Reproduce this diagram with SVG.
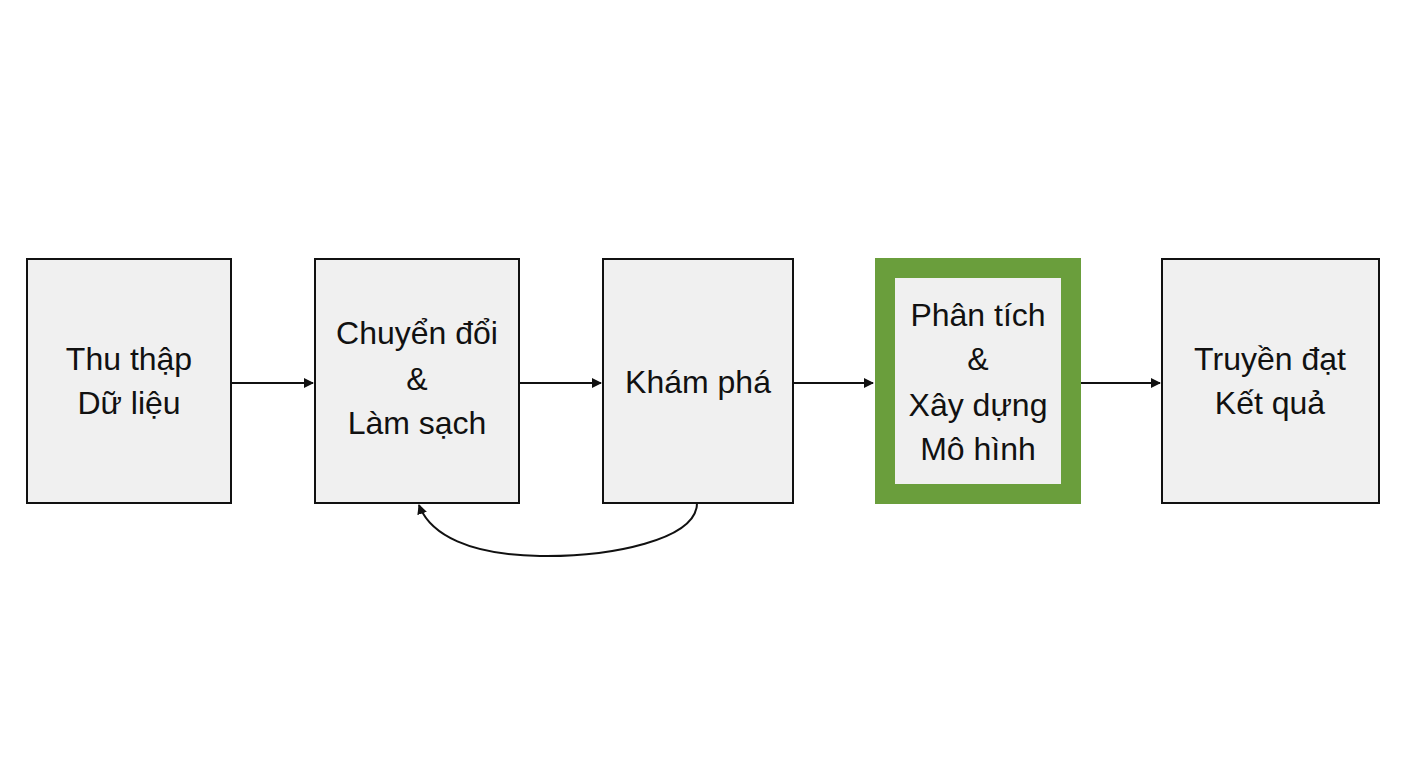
<svg xmlns="http://www.w3.org/2000/svg" width="1408" height="768" viewBox="0 0 1408 768">
<style>
.box{fill:#f0f0f0;stroke:#111;stroke-width:2}
.t{font-family:"Liberation Sans",Arial,sans-serif;font-size:32px;fill:#111;text-anchor:middle}
.c{stroke:#111;stroke-width:2;fill:none;marker-end:url(#a)}
</style>
<defs><marker id="a" markerWidth="10" markerHeight="10" refX="9" refY="5" orient="auto" markerUnits="userSpaceOnUse"><path d="M0,0L10,5L0,10z" fill="#111"/></marker></defs>
<rect width="1408" height="768" fill="#fff"/>
<g id="n1"><rect class="box" x="27" y="259" width="204" height="244"/><text class="t" x="129" y="370">Thu thập</text><text class="t" x="129" y="414">Dữ liệu</text></g>
<g id="n2"><rect class="box" x="315" y="259" width="204" height="244"/><text class="t" x="417" y="344">Chuyển đổi</text><text class="t" x="417" y="390">&amp;</text><text class="t" x="417" y="434">Làm sạch</text></g>
<g id="n3"><rect class="box" x="603" y="259" width="190" height="244"/><text class="t" x="698" y="393">Khám phá</text></g>
<g id="n4"><rect x="885" y="268" width="186" height="226" fill="#f0f0f0" stroke="#6a9e3c" stroke-width="20"/><text class="t" x="978" y="326">Phân tích</text><text class="t" x="978" y="370">&amp;</text><text class="t" x="978" y="416">Xây dựng</text><text class="t" x="978" y="460">Mô hình</text></g>
<g id="n5"><rect class="box" x="1162" y="259" width="217" height="244"/><text class="t" x="1270" y="370">Truyền đạt</text><text class="t" x="1270" y="414">Kết quả</text></g>
<g id="connectors">
<path class="c" d="M231,383H313"/>
<path class="c" d="M519,383H601"/>
<path class="c" d="M793,383H873"/>
<path class="c" d="M1081,383H1160"/>
<path class="c" d="M697,503C697,540 610,557 540,556C470,555 430,535 419,505"/>
</g>
</svg>
